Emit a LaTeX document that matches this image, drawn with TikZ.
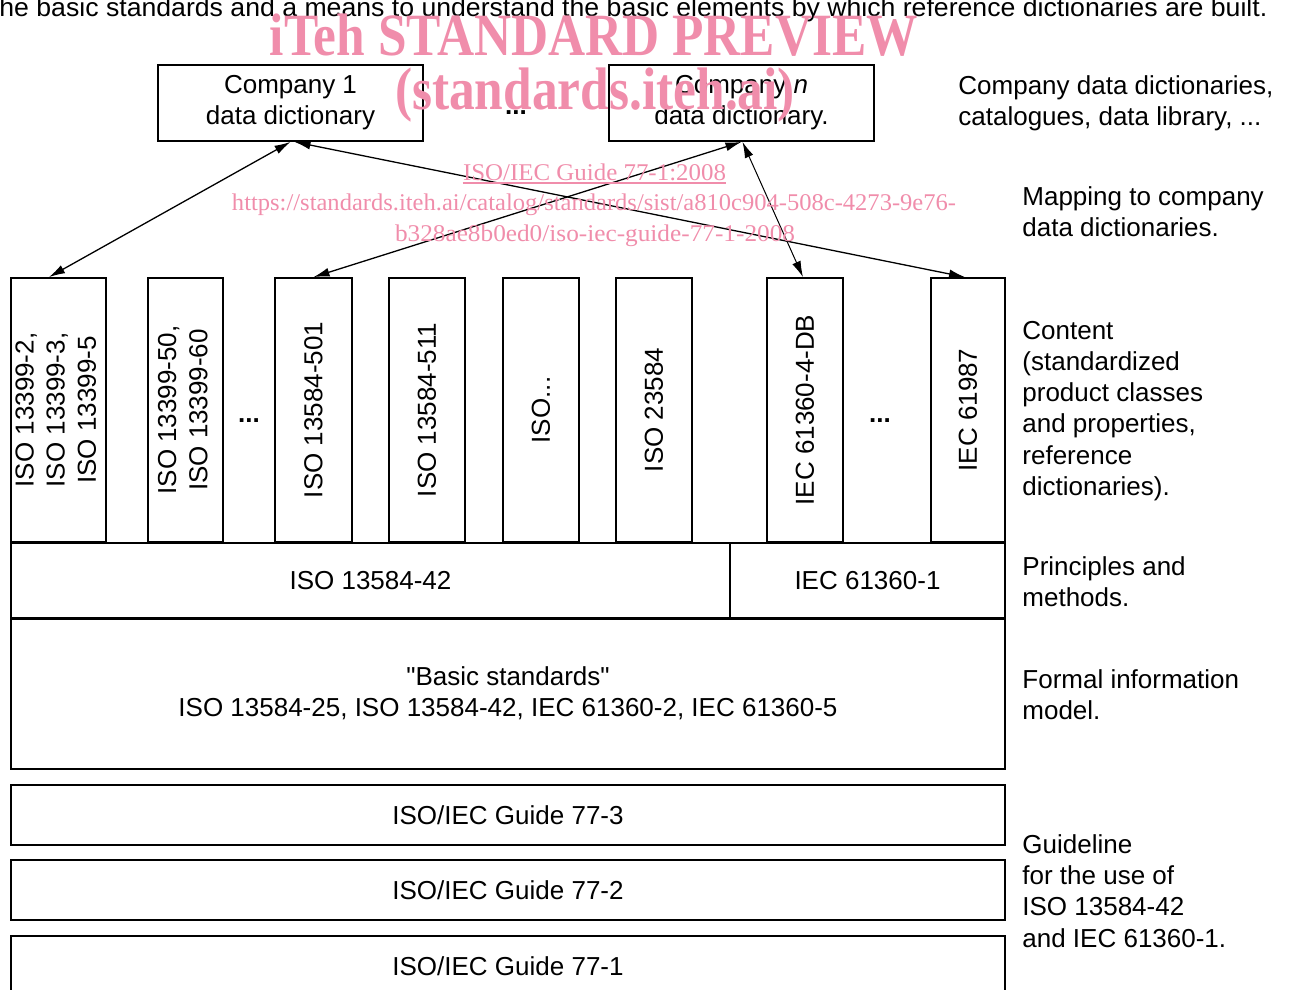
\documentclass[tikz,border=0pt]{standalone}
\usepackage{fontspec}
\setmainfont{Liberation Sans}
\newfontfamily\wmfont{Liberation Serif}
\usetikzlibrary{arrows.meta}
\definecolor{wmpink}{HTML}{F08DAB}

\begin{document}
\begin{tikzpicture}[
  x=0.5pt, y=-0.5pt,
  font=\fontsize{13}{15.6}\selectfont,
  >={Latex[length=8pt,width=4.5pt]},
  every node/.style={
    align=center,
    text=black,
  },
  box/.style={
    draw,
    line width=0.9pt,
    inner sep=0pt,
    minimum height=38pt,
  },
  ddbox/.style={
    box,
    minimum width=132.5pt,
  },
  colbox/.style={
    box,
    minimum width=38pt,
    minimum height=132pt,
  },
  rowbox/.style={
    box,
    minimum width=497pt,
    minimum height=30pt,
  },
  side/.style={
    anchor=west,
    align=left,
    inner sep=0pt,
  },
  gapdots/.style={
    font=\fontsize{13}{15.6}\selectfont\bfseries,
  },
  dd/.style={
    <->,
    line width=0.65pt,
  },
  wm/.style={
    text=wmpink,
    font=\wmfont,
    inner sep=0pt,
  },
]
\useasboundingbox (0,0) rectangle (1290,990);

% --- company dictionaries ---
\node[ddbox] (dd1) at (290.5,103) {Company 1\\data dictionary};
\node[ddbox] (ddn) at (741.5,103) {Company \textit{n}\\data dictionary.};
\node[gapdots] (dots1) at (516,113) {...};

% --- content columns ---
\node[colbox, minimum width=47.5pt] (c1) at (58.5,410)
  {\rotatebox{90}{\begin{tabular}{@{}c@{}}ISO 13399-2,\\ISO 13399-3,\\ISO 13399-5\end{tabular}}};
\node[colbox, minimum width=37.5pt] (c2) at (185.5,410)
  {\rotatebox{90}{\begin{tabular}{@{}c@{}}ISO 13399-50,\\ISO 13399-60\end{tabular}}};
\node[colbox, minimum width=38.5pt] (c3) at (313.5,410) {\rotatebox{90}{ISO 13584-501}};
\node[colbox] (c4) at (427,410) {\rotatebox{90}{ISO 13584-511}};
\node[colbox] (c5) at (541,410) {\rotatebox{90}{ISO...}};
\node[colbox] (c6) at (654,410) {\rotatebox{90}{ISO 23584}};
\node[colbox] (c7) at (805,410) {\rotatebox{90}{IEC 61360-4-DB}};
\node[colbox, minimum width=37pt] (c8) at (968,410) {\rotatebox{90}{IEC 61987}};
\node[gapdots] (dots2) at (249,421) {...};
\node[gapdots] (dots3) at (880,421) {...};

% --- layers ---
\node[box, minimum width=359.5pt] (pm1) at (370.5,581) {ISO 13584-42};
\node[box, minimum width=137.5pt] (pm2) at (867.5,581) {IEC 61360-1};
\node[box, minimum width=497pt, minimum height=75.5pt] (basic) at (508,693.5)
  {\textquotedbl Basic standards\textquotedbl\\ISO 13584-25, ISO 13584-42, IEC 61360-2, IEC 61360-5};
\node[rowbox] (g3) at (508,815) {ISO/IEC Guide 77-3};
\node[rowbox] (g2) at (508,890) {ISO/IEC Guide 77-2};
\node[rowbox] (g1) at (508,966) {ISO/IEC Guide 77-1};

% --- mappings ---
\draw[dd] ([xshift=-4.75pt]c1.north) -- (dd1.south);
\draw[dd] ([xshift=2pt]dd1.south) -- ([xshift=-1.5pt]c8.north);
\draw[dd] (ddn.south) -- (c3.north);
\draw[dd, line width=0.5pt] ([xshift=0.5pt]ddn.south) -- ([xshift=-1pt]c7.north);

% --- side notes ---
\node[side] (n1) at (958,103) {Company data dictionaries,\\catalogues, data library, ...};
\node[side] (n2) at (1022,212) {Mapping to company\\data dictionaries.};
\node[side] (n3) at (1022,411)
  {Content\\(standardized\\product classes\\and properties,\\reference\\dictionaries).};
\node[side] (n4) at (1022,582) {Principles and\\methods.};
\node[side] (n5) at (1022,695) {Formal information\\model.};
\node[side] (n6) at (1022,891) {Guideline\\for the use of\\ISO 13584-42\\and IEC 61360-1.};

% --- cut caption and watermark ---
\node[anchor=base west, inner sep=0pt] (cap) at (-1,17)
  {\resizebox{634pt}{\height}{he basic standards and a means to understand the basic elements by which reference dictionaries are built.}};
\node[wm] (wm1) at (594,35)
  {\resizebox{324pt}{\height}{\fontsize{30}{36}\selectfont\bfseries iTeh STANDARD PREVIEW}};
\node[wm] (wm2) at (595,95)
  {\resizebox{200pt}{\height}{\fontsize{30}{36}\selectfont\bfseries (standards.iteh.ai)}};
\node[wm] (wm3) at (594.5,172)
  {\resizebox{131.5pt}{\height}{\fontsize{12}{14}\selectfont ISO/IEC Guide 77-1:2008}};
\draw[wmpink, line width=0.7pt] ([yshift=-1pt]wm3.south west) -- ([yshift=-1pt]wm3.south east);
\node[wm] (wm4) at (594,205)
  {\resizebox{362pt}{\height}{\fontsize{12}{14}\selectfont https://standards.iteh.ai/catalog/standards/sist/a810c904-508c-4273-9e76-}};
\node[wm] (wm5) at (595,236)
  {\resizebox{200pt}{\height}{\fontsize{12}{14}\selectfont b328ae8b0ed0/iso-iec-guide-77-1-2008}};

\end{tikzpicture}
\end{document}
